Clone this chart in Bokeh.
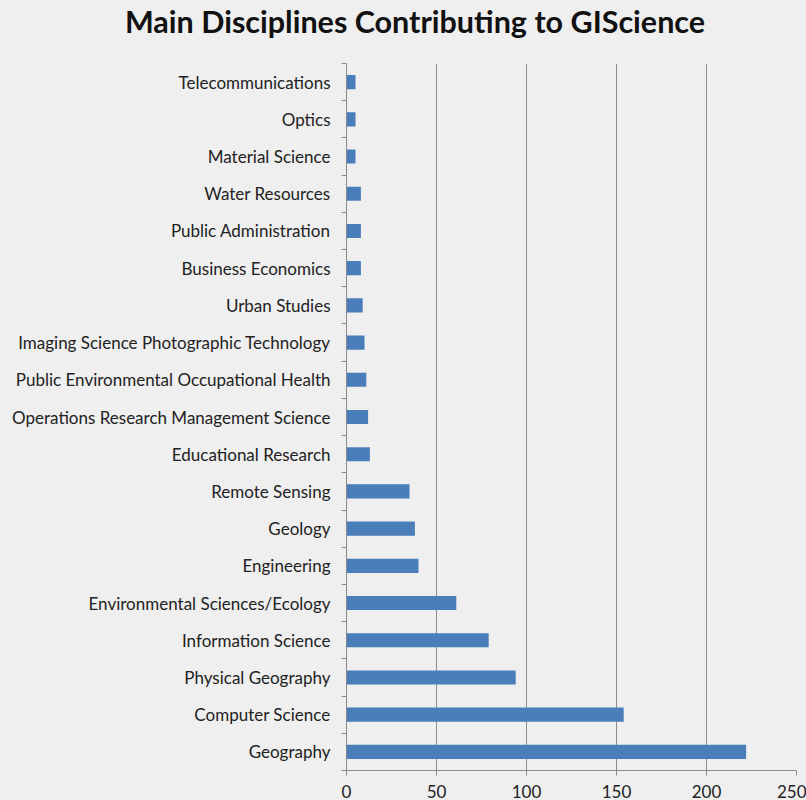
from bokeh.plotting import figure
from bokeh.models import FixedTicker, Range1d, ColumnDataSource, Div
from bokeh.layouts import column
from bokeh.embed import file_html
from bokeh.resources import INLINE

categories = [
    "Geography", "Computer Science", "Physical Geography", "Information Science",
    "Environmental Sciences/Ecology", "Engineering", "Geology", "Remote Sensing",
    "Educational Research", "Operations Research Management Science",
    "Public Environmental Occupational Health", "Imaging Science Photographic Technology",
    "Urban Studies", "Business Economics", "Public Administration", "Water Resources",
    "Material Science", "Optics", "Telecommunications",
]
values = [222, 154, 94, 79, 61, 40, 38, 35, 13, 12, 11, 10, 9, 8, 8, 8, 5, 5, 5]
x_ticks = [0, 50, 100, 150, 200, 250]
title_text = "Main Disciplines Contributing to GIScience"

pos = list(range(len(categories)))
src = ColumnDataSource(dict(y=pos, v=values, name=categories))

BG = "#efefef"
FONT = "Lato"

title = Div(text=title_text, width=806, height=58, margin=0,
            styles={"font-family": FONT, "font-size": "30.5px", "font-weight": "bold",
                    "color": "#111111", "background-color": BG, "text-align": "center",
                    "width": "806px", "height": "58px", "line-height": "42px",
                    "padding-left": "24px", "box-sizing": "border-box"})

p = figure(width=806, height=742, output_backend="svg", toolbar_location=None,
           x_range=Range1d(0, 250), y_range=Range1d(-0.5, len(categories) - 0.5),
           min_border_left=346, min_border_right=10, min_border_top=5, min_border_bottom=30,
           background_fill_color=BG, border_fill_color=BG, outline_line_color=None,
           margin=0)

p.hbar(y="y", right="v", left=0, height=0.38, source=src,
       fill_color="#4a7ebb", line_color=None)

p.xaxis.ticker = FixedTicker(ticks=x_ticks)
p.yaxis.ticker = FixedTicker(ticks=pos, minor_ticks=[i - 0.5 for i in range(len(categories) + 1)])
p.yaxis.major_label_overrides = {i: c for i, c in zip(pos, categories)}

for ax in (p.xaxis, p.yaxis):
    ax.axis_line_color = "#8a8a8a"
    ax.major_label_text_font = FONT
    ax.major_label_text_font_size = "17px"
    ax.major_label_text_color = "#222222"

p.yaxis.major_tick_line_color = None
p.yaxis.minor_tick_line_color = "#8a8a8a"
p.yaxis.minor_tick_out = 5
p.yaxis.minor_tick_in = 0
p.yaxis.major_label_standoff = 10

p.xaxis.major_tick_line_color = "#8a8a8a"
p.xaxis.major_tick_out = 5
p.xaxis.major_tick_in = 0
p.xaxis.minor_tick_line_color = None
p.xaxis.major_label_standoff = 9

p.xgrid.grid_line_color = "#8c8c8c"
p.xgrid.grid_line_width = 1
p.ygrid.grid_line_color = None

layout = column(title, p, spacing=0, margin=0, styles={"background-color": BG})
open("out.html", "w").write(file_html(layout, INLINE))
